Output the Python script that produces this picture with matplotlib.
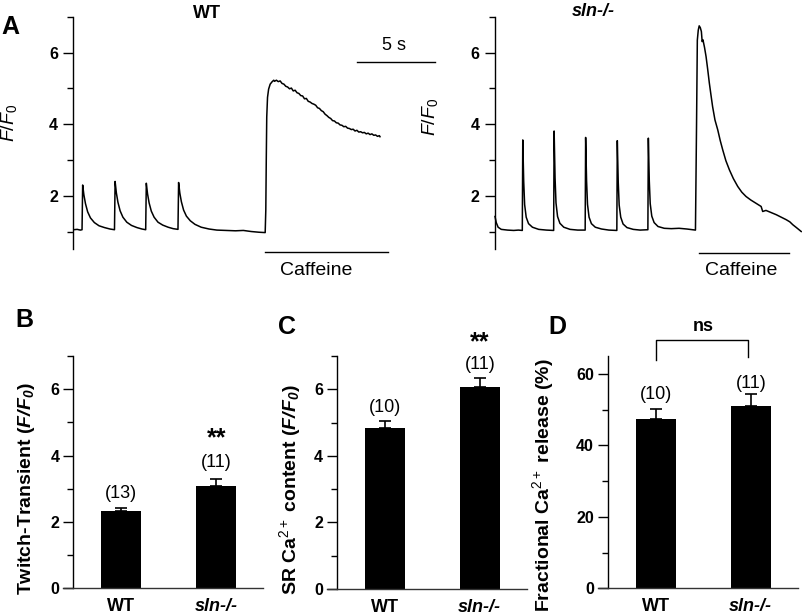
import matplotlib.pyplot as plt

W, H = 803, 616

# --- panel A traces: time (s) and F/F0 ---
wt_t = [0.00, 0.25, 0.45, 0.56, 0.60, 0.68, 0.78, 0.92, 1.10, 1.35, 1.65, 2.00, 2.35, 2.64,
        2.68, 2.76, 2.86, 3.00, 3.18, 3.43, 3.73, 4.08, 4.40, 4.64,
        4.68, 4.76, 4.86, 5.00, 5.18, 5.43, 5.73, 6.08, 6.40, 6.71,
        6.75, 6.83, 6.93, 7.07, 7.25, 7.50, 7.80, 8.20, 8.70, 9.20, 9.80, 10.40, 10.90,
        11.40, 11.90, 12.30,
        12.34, 12.37, 12.40, 12.45, 12.52, 12.62, 12.75, 12.85,
        12.90, 13.02, 13.14, 13.26, 13.38, 13.50, 13.62, 13.74, 13.86, 13.98,
        14.10, 14.22, 14.34, 14.46, 14.58, 14.70, 14.82, 14.94, 15.06, 15.18,
        15.30, 15.42, 15.54, 15.66, 15.78, 15.90, 16.02, 16.14, 16.26, 16.38,
        16.50, 16.62, 16.74, 16.86, 16.98, 17.10, 17.22, 17.34, 17.46, 17.58,
        17.70, 17.82, 17.94, 18.06, 18.18, 18.30, 18.42, 18.54, 18.66, 18.78,
        18.90, 19.02, 19.14, 19.26, 19.38, 19.50, 19.62, 19.66]
wt_f = [1.05, 1.06, 1.04, 1.05, 2.30, 2.02, 1.78, 1.55, 1.38, 1.25, 1.16, 1.11, 1.07, 1.05,
        2.40, 2.08, 1.82, 1.58, 1.40, 1.26, 1.17, 1.11, 1.07, 1.05,
        2.35, 2.05, 1.80, 1.57, 1.40, 1.26, 1.18, 1.12, 1.08, 1.06,
        2.37, 2.07, 1.83, 1.60, 1.43, 1.30, 1.20, 1.12, 1.07, 1.04, 1.03, 1.02, 1.03,
        1.00, 0.98, 0.97,
        1.60, 3.00, 4.20, 4.75, 4.98, 5.12, 5.19, 5.23,
        5.20, 5.23, 5.19, 5.21, 5.14, 5.12, 5.06, 5.04, 4.99, 5.01,
        4.93, 4.95, 4.88, 4.86, 4.80, 4.79, 4.71, 4.72, 4.64, 4.62,
        4.58, 4.56, 4.53, 4.46, 4.44, 4.38, 4.35, 4.28, 4.24, 4.19,
        4.16, 4.10, 4.09, 4.04, 4.03, 3.98, 3.97, 3.93, 3.94, 3.89,
        3.88, 3.85, 3.86, 3.81, 3.83, 3.78, 3.79, 3.76, 3.77, 3.73,
        3.75, 3.71, 3.73, 3.69, 3.70, 3.66, 3.68, 3.65]

sln_t = [0.00, 0.08, 0.20, 0.40, 0.80, 1.20, 1.50, 1.75,
         1.78, 1.84, 1.90, 2.00, 2.15, 2.40, 2.80, 3.30, 3.76,
         3.79, 3.85, 3.91, 4.01, 4.16, 4.41, 4.81, 5.30, 5.78,
         5.81, 5.87, 5.93, 6.03, 6.18, 6.43, 6.83, 7.30, 7.81,
         7.84, 7.90, 7.96, 8.06, 8.21, 8.46, 8.86, 9.30, 9.80,
         9.83, 9.89, 9.95, 10.05, 10.20, 10.45, 10.85, 11.30, 11.80, 12.30, 12.85,
         12.92, 12.97, 13.03, 13.09, 13.16, 13.23, 13.28, 13.33, 13.43, 13.53,
         13.63, 13.74, 13.85, 13.95, 14.10, 14.28, 14.44, 14.60, 14.80, 15.03,
         15.28, 15.56, 15.82, 16.09, 16.40, 16.73, 17.06, 17.16, 17.37,
         17.70, 18.03, 18.35, 18.67, 18.90, 19.09, 19.35, 19.63]
sln_f = [1.42, 1.25, 1.12, 1.06, 1.04, 1.03, 1.04, 1.03,
         3.56, 2.40, 1.75, 1.40, 1.22, 1.12, 1.06, 1.04, 1.03,
         3.81, 2.50, 1.80, 1.42, 1.23, 1.12, 1.06, 1.04, 1.04,
         3.63, 2.42, 1.76, 1.40, 1.22, 1.12, 1.07, 1.04, 1.03,
         3.54, 2.38, 1.74, 1.40, 1.21, 1.11, 1.06, 1.04, 1.05,
         3.61, 2.42, 1.78, 1.43, 1.25, 1.14, 1.09, 1.08, 1.09, 1.07, 1.04,
         4.00, 6.35, 6.63, 6.75, 6.70, 6.59, 6.31, 6.36, 6.15, 5.89,
         5.55, 5.15, 4.80, 4.49, 4.12, 3.84, 3.54, 3.28, 2.98, 2.72,
         2.48, 2.26, 2.10, 1.98, 1.88, 1.79, 1.70, 1.56, 1.59,
         1.53, 1.47, 1.40, 1.33, 1.27, 1.19, 1.10, 1.00]

# --- panels B-D: means, SEM, n ---
groups = ["WT", "sln-/-"]
twitch_mean = [2.33, 3.07]
twitch_err = [0.10, 0.22]
twitch_n = ["(13)", "(11)"]
sr_mean = [4.85, 6.08]
sr_err = [0.19, 0.27]
sr_n = ["(10)", "(11)"]
frac_mean = [47.3, 51.0]
frac_err = [2.9, 3.3]
frac_n = ["(10)", "(11)"]

plt.rcParams["font.family"] = ["Liberation Sans", "DejaVu Sans"]
plt.rcParams["mathtext.fontset"] = "custom"
plt.rcParams["mathtext.rm"] = "Liberation Sans"
plt.rcParams["mathtext.it"] = "Liberation Sans:italic"
plt.rcParams["mathtext.bf"] = "Liberation Sans:bold"
plt.rcParams["mathtext.bfit"] = "Liberation Sans:bold:italic"

fig = plt.figure(figsize=(W / 100, H / 100), dpi=100)


def box(x0, y0, x1, y1):
    # pixel box (top-left origin) -> axes
    return fig.add_axes([x0 / W, 1 - y1 / H, (x1 - x0) / W, (y1 - y0) / H])


def ftext(x, y, s, **kw):
    fig.text(x / W, 1 - y / H, s, ha="center", va="center", **kw)


def trace_axes(ax, tmax):
    ax.set_xlim(0, tmax)
    ax.set_ylim(0.5, 7)
    for s in ["top", "right", "bottom"]:
        ax.spines[s].set_visible(False)
    ax.spines["left"].set_linewidth(1.0)
    ax.set_xticks([])
    ax.set_yticks([2, 4, 6], ["2", "4", "6"], fontweight="bold")
    ax.set_yticks([1, 3, 5, 7], minor=True)
    ax.tick_params(axis="y", which="major", length=7, width=1.0, labelsize=11.5, pad=4)
    ax.tick_params(axis="y", which="minor", length=4, width=1.0)


# A: WT trace
ax1 = box(73.3, 16.9, 439.9, 249.4)
trace_axes(ax1, 23.5)
ax1.plot(wt_t, wt_f, color="black", lw=1.1)
ax1.plot([12.29, 20.15], [0.425, 0.425], color="black", lw=1.0, clip_on=False)
ax1.text(15.58, -0.10, "Caffeine", ha="center", va="center", fontsize=14)
ax1.plot([18.17, 23.19], [5.75, 5.75], color="black", lw=1.0, clip_on=False)
ax1.text(20.53, 6.19, "5 s", ha="center", va="center", fontsize=13)

# A: sln-/- trace
ax2 = box(495, 16.9, 802, 249.4)
trace_axes(ax2, 19.68)
ax2.plot(sln_t, sln_f, color="black", lw=1.1, clip_on=False)
ax2.plot([13.08, 18.87], [0.40, 0.40], color="black", lw=1.0, clip_on=False)
ax2.text(15.77, -0.10, "Caffeine", ha="center", va="center", fontsize=14)

ftext(10, 27, "A", fontsize=18, fontweight="bold")
ftext(206.7, 13.5, "WT", fontsize=13, fontweight="bold")
ftext(593, 11, "sln-/-", fontsize=13, fontweight="bold", style="italic")
ftext(9, 123, r"$\mathit{F/F_0}$", fontsize=14, rotation=90)
ftext(430, 117, r"$\mathit{F/F_0}$", fontsize=14, rotation=90)


def bar_axes(ax, mean, err, ymax, major, minor, ylabel, lab_x, lab_y):
    xs = [0, 1]
    ax.bar(xs, mean, width=0.42, color="black")
    ax.errorbar(xs, mean, yerr=[[0, 0], err], fmt="none", ecolor="black",
                elinewidth=1.2, capsize=4.3, capthick=1.2)
    ax.set_xlim(-0.611, 1.494)
    ax.set_ylim(0, ymax)
    ax.spines["left"].set_position(("data", -0.505))
    for s in ["top", "right"]:
        ax.spines[s].set_visible(False)
    ax.spines["left"].set_linewidth(1.0)
    ax.spines["bottom"].set_linewidth(1.0)
    ax.spines["bottom"].set_color("#333333")
    ax.set_yticks(major, [str(v) for v in major], fontweight="bold")
    ax.set_yticks(minor, minor=True)
    ax.tick_params(axis="y", which="major", length=7, width=1.0, labelsize=11.5, pad=3)
    ax.tick_params(axis="y", which="minor", length=4, width=1.0)
    ax.set_xticks(xs, groups, fontsize=13, fontweight="bold")
    ax.get_xticklabels()[1].set_style("italic")
    ax.tick_params(axis="x", length=0, pad=7)
    ax.set_ylabel(ylabel, fontsize=14, fontweight="bold")
    ax.yaxis.set_label_coords(lab_x, lab_y)


# B
axb = box(63.3, 356, 263.3, 588.3)
bar_axes(axb, twitch_mean, twitch_err, 7, [0, 2, 4, 6], [1, 3, 5, 7],
         r"Twitch-Transient ($\mathbfit{F/F_0}$)", -0.13, 0.43)
axb.text(0, 2.87, twitch_n[0], ha="center", va="center", fontsize=13)
axb.text(1, 3.79, twitch_n[1], ha="center", va="center", fontsize=13)
axb.text(1, 4.31, "**", ha="center", va="baseline", fontsize=18, fontweight="bold")

# C
axc = box(326.7, 356, 526.7, 589)
bar_axes(axc, sr_mean, sr_err, 7, [0, 2, 4, 6], [1, 3, 5, 7],
         r"SR Ca$^{2+}$ content ($\mathbfit{F/F_0}$)", -0.12, 0.425)
axc.text(0, 5.45, sr_n[0], ha="center", va="center", fontsize=13)
axc.text(1, 6.73, sr_n[1], ha="center", va="center", fontsize=13)
axc.text(1, 7.20, "**", ha="center", va="baseline", fontsize=18, fontweight="bold",
         clip_on=False)

# D
axd = box(597.7, 356, 797.7, 588.3)
bar_axes(axd, frac_mean, frac_err, 65, [0, 20, 40, 60], [10, 30, 50],
         r"Fractional Ca$^{2+}$ release (%)", -0.21, 0.445)
axd.text(0, 54.1, frac_n[0], ha="center", va="center", fontsize=13)
axd.text(1, 57.4, frac_n[1], ha="center", va="center", fontsize=13)
axd.plot([0, 0, 0.97, 0.97], [63.9, 69.5, 69.5, 64.7], color="black", lw=1.0,
         clip_on=False)
axd.text(0.5, 73.2, "ns", ha="center", va="center", fontsize=13, fontweight="bold")

ftext(24, 320, "B", fontsize=18, fontweight="bold")
ftext(287, 327, "C", fontsize=18, fontweight="bold")
ftext(557, 327, "D", fontsize=18, fontweight="bold")

fig.savefig("out.png", dpi=100)
